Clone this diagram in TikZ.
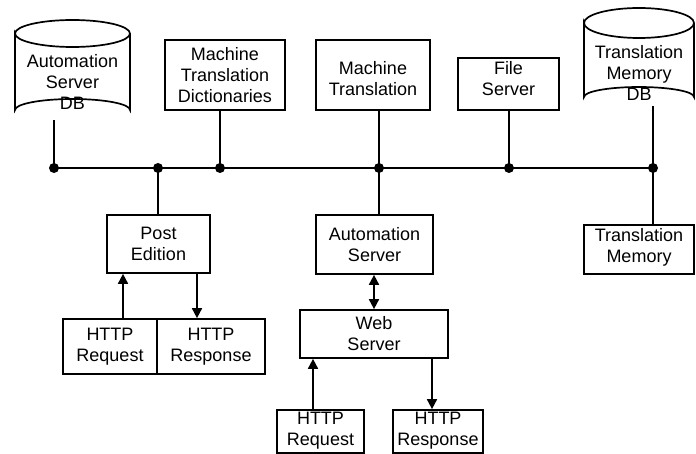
\documentclass[tikz,border=0pt]{standalone}
\usepackage{fontspec}
\setmainfont{Liberation Sans}
\usetikzlibrary{arrows.meta}
\begin{document}
\begin{tikzpicture}[x=1pt,y=-1pt,
  lw/.style={line width=1.7pt},
  box/.style={draw,lw,inner sep=0pt,align=center,font=\fontsize{18}{21}\selectfont},
  lbl/.style={inner sep=0pt,align=center,font=\fontsize{18}{21}\selectfont},
  dot/.style={circle,fill,inner sep=0pt,minimum size=10pt},
  conn/.style={lw},
  arr/.style={lw,-{Triangle[length=10pt,width=10pt]}},
  darr/.style={lw,{Triangle[length=10pt,width=10pt]}-{Triangle[length=10pt,width=10pt]}}]
\useasboundingbox (0,0) rectangle (696,454);
% cylinders
\draw[lw] (15,33.5) arc[start angle=180,end angle=360,x radius=57.5,y radius=13.5]
  arc[start angle=0,end angle=180,x radius=57.5,y radius=13.5] -- (15,110)
  arc[start angle=180,end angle=360,x radius=57.5,y radius=11] -- (130,33.5);
\node[lbl] (asdb) at (72.5,82) {Automation\\Server\\DB};
\coordinate (asdbB) at (54,120.5);
\draw[lw] (584,23) arc[start angle=180,end angle=360,x radius=55,y radius=15]
  arc[start angle=0,end angle=180,x radius=55,y radius=15] -- (584,97)
  arc[start angle=180,end angle=360,x radius=55,y radius=10] -- (694,23);
\node[lbl] (tmdb) at (639,72.5) {Translation\\Memory\\DB};
\coordinate (tmdbB) at (653,106.5);
% boxes
\node[box,minimum width=120pt,minimum height=70pt] (mtd) at (225,75) {Machine\\Translation\\Dictionaries};
\node[box,minimum width=114pt,minimum height=70pt] (mt) at (373,75) {};
\node[lbl] (mtT) at (373,79) {Machine\\Translation};
\node[box,minimum width=101pt,minimum height=52pt] (fs) at (508.5,84) {};
\node[lbl] (fsT) at (508.5,79) {File\\Server};
\node[box,minimum width=103pt,minimum height=58pt] (pe) at (158.5,244) {Post\\Edition};
\node[box,minimum width=117pt,minimum height=59pt] (as) at (374.5,244.5) {Automation\\Server};
\node[box,minimum width=110pt,minimum height=49pt] (tm) at (639,249.5) {};
\node[lbl] (tmT) at (639,247) {Translation\\Memory};
\node[box,minimum width=94pt,minimum height=55pt] (req1) at (110,346.5) {HTTP\\Request};
\node[box,minimum width=108pt,minimum height=55pt] (resp1) at (211,346.5) {HTTP\\Response};
\node[box,minimum width=148pt,minimum height=48pt] (ws) at (374,334) {Web\\Server};
\node[box,minimum width=87pt,minimum height=43pt] (req2) at (320.5,431.5) {};
\node[lbl] (req2T) at (320.5,430.5) {HTTP\\Request};
\node[box,minimum width=90pt,minimum height=43pt] (resp2) at (438,431.5) {};
\node[lbl] (resp2T) at (438,430.5) {HTTP\\Response};
% bus
\node[dot] (d1) at (54,168) {};
\node[dot] (d2) at (158,168) {};
\node[dot] (d3) at (220,168) {};
\node[dot] (d4) at (379,168) {};
\node[dot] (d5) at (509,168) {};
\node[dot] (d6) at (653,168) {};
\draw[conn] (d1.center) -- (d6.center);
\draw[conn] (asdbB) -- (d1.center);
\draw[conn] (d2.center) -- (d2 |- pe.north);
\draw[conn] (mtd.south -| d3) -- (d3.center);
\draw[conn] (mt.south -| d4) -- (d4.center) -- (d4 |- as.north);
\draw[conn] (fs.south -| d5) -- (d5.center);
\draw[conn] (tmdbB) -- (d6.center) -- (d6 |- tm.north);
% arrows
\draw[arr] ([xshift=13pt]req1.north) -- ([xshift=13pt]req1.north |- pe.south);
\draw[arr] ([xshift=-14pt]resp1.north |- pe.south) -- ([xshift=-14pt]resp1.north);
\draw[darr] (as.south -| ws.north) -- (ws.north);
\draw[arr] ([xshift=-7.5pt]req2.north) -- ([xshift=-7.5pt]req2.north |- ws.south);
\draw[arr] ([xshift=-6pt]resp2.north |- ws.south) -- ([xshift=-6pt]resp2.north);
\end{tikzpicture}
\end{document}
